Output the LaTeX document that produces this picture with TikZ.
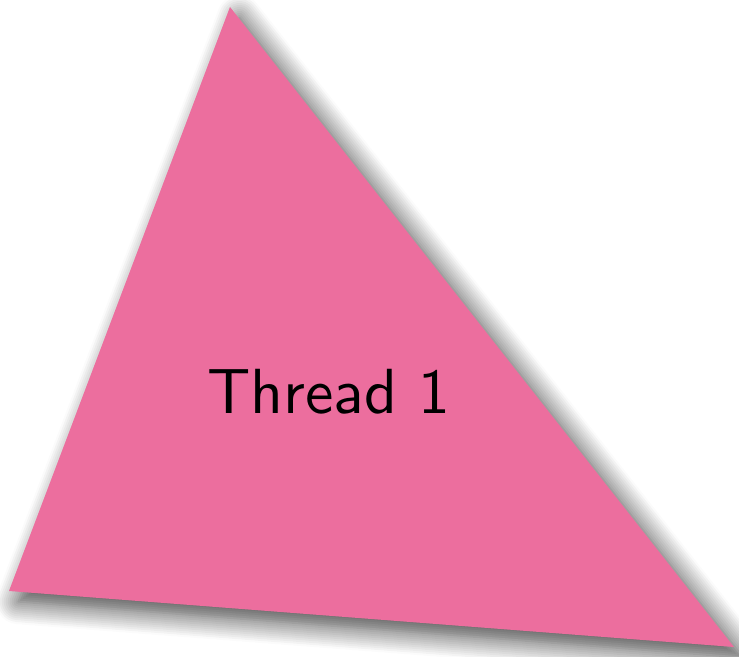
\documentclass[tikz,border=0pt]{standalone}
\usetikzlibrary{shadows.blur}
\definecolor{threadpink}{RGB}{236,110,158}
\begin{document}
\begin{tikzpicture}[
    x=0.16pt, y=-0.16pt,
    threadarea/.style={fill=threadpink, blur shadow={shadow xshift=1.5pt, shadow yshift=-1.7pt, shadow blur radius=3.6pt, shadow blur steps=12, shadow opacity=75}},
    threadtext/.style={font=\sffamily, scale=1.02}
]
    \useasboundingbox (0,0) rectangle (739,656);
    % Ecken des Dreiecks
    \coordinate (top) at (230,7);
    \coordinate (left) at (9,591);
    \coordinate (right) at (734,647);

    \fill[threadarea] (top) -- (left) -- (right) -- cycle;
    \node[threadtext] (t1) at (329,392) {Thread 1};
\end{tikzpicture}
\end{document}
